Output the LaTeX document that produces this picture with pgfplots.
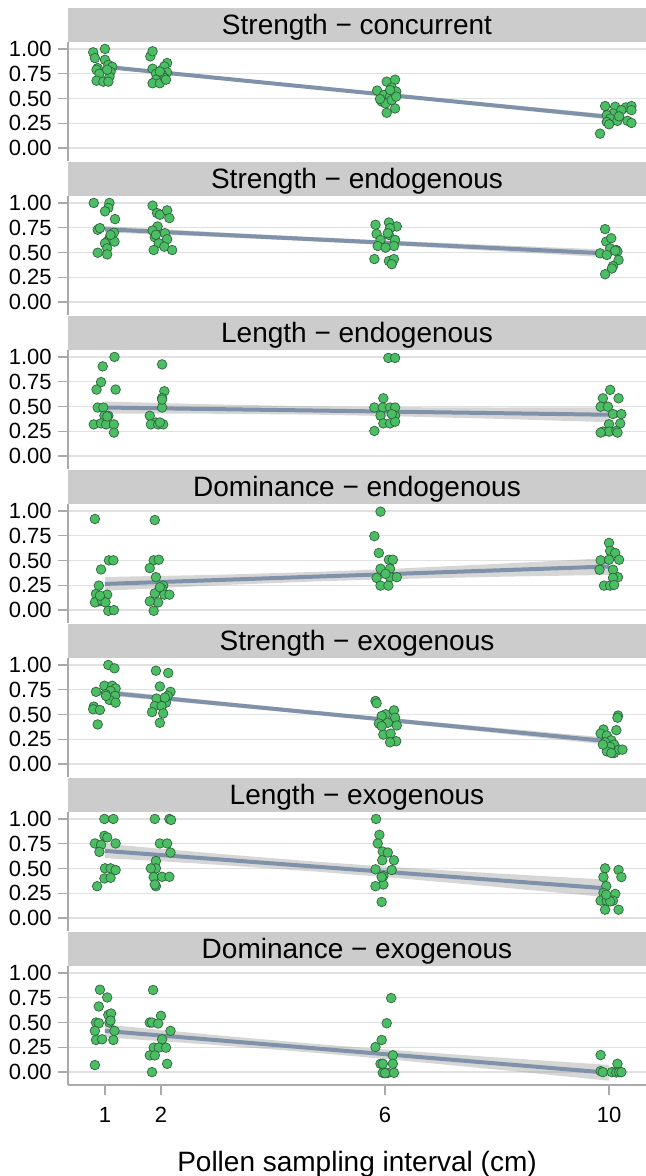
\documentclass[border=0pt]{standalone}
\usepackage{pgfplots}
\pgfplotsset{compat=1.18}
\usepackage{fontspec}
\setmainfont{Liberation Sans}
\definecolor{stripc}{RGB}{204,204,204}
\definecolor{gridc}{RGB}{225,225,225}
\definecolor{axc}{RGB}{170,170,170}
\definecolor{ptfill}{RGB}{75,190,100}
\definecolor{ptdraw}{RGB}{45,100,60}
\definecolor{linec}{RGB}{128,146,170}
\definecolor{bandc}{RGB}{153,153,153}
\pgfplotsset{
  panel/.style={
    scale only axis, width=289pt, height=59.5pt,
    xmin=0.34, xmax=10.66, ymin=-0.13, ymax=1.07,
    anchor=north west,
    axis line style={axc, line width=0.7pt},
    ytick={0,0.25,0.5,0.75,1}, yticklabels={0.00,0.25,0.50,0.75,1.00},
    ymajorgrids, grid style={gridc, line width=0.7pt},
    tick style={axc, line width=0.7pt},
    tick align=outside, major tick length=5pt,
    ticklabel style={font=\fontsize{11}{13}\selectfont},
    yticklabel style={anchor=east, inner sep=0pt, xshift=-3pt},
    axis y line*=left,
    title style={at={(0.5,1)}, anchor=south, fill=stripc, minimum width=289pt,
      minimum height=17pt, inner sep=0pt, text height=10pt, text depth=0pt,
      font=\fontsize{14}{16}\selectfont, yshift=-6pt},
  },
  upper/.style={axis x line=none, xtick=\empty},
  pts/.style={only marks, mark=*, mark size=2.4pt, mark options={fill=ptfill, draw=ptdraw, line width=0.35pt}},
  band/.style={fill=bandc, fill opacity=0.4, draw=none},
  fit/.style={linec, line width=2pt},
}
\begin{document}
\begin{tikzpicture}
\path[use as bounding box] (-34pt,21pt) rectangle (289pt,-567pt);
% Panel 1
\begin{axis}[panel, upper, at={(0pt,0pt)}, title={Strength − concurrent}]
\addplot[pts] coordinates {
(0.79,0.966) (0.82,0.908) (1.00,1.00) (1.00,0.89) (0.87,0.807) (0.85,0.79) (1.06,0.84) (1.13,0.82) (0.90,0.75) (1.10,0.77) (1.08,0.72) (0.85,0.68) (0.97,0.67) (1.06,0.67) (1.04,0.79)
(1.81,0.925) (1.85,0.976) (1.85,0.80) (2.02,0.79) (2.11,0.858) (2.06,0.824) (2.11,0.763) (1.91,0.75) (2.02,0.74) (1.91,0.69) (1.85,0.654) (1.98,0.654) (2.07,0.705) (2.09,0.69) (1.98,0.773)
(5.86,0.58) (6.03,0.67) (6.18,0.69) (6.12,0.61) (5.98,0.535) (6.09,0.52) (6.20,0.57) (5.94,0.47) (6.01,0.45) (6.18,0.40) (6.03,0.356) (5.91,0.495) (6.12,0.485) (6.20,0.52) (6.09,0.586)
(9.84,0.146) (9.93,0.424) (10.11,0.417) (10.30,0.41) (10.40,0.424) (10.40,0.383) (10.22,0.383) (10.07,0.349) (9.96,0.332) (10.02,0.298) (9.96,0.264) (10.15,0.275) (10.33,0.275) (10.40,0.254) (10.00,0.24) (10.18,0.32)
};
\addplot[band] coordinates {(1,0.800) (2,0.746) (3,0.692) (4.75,0.596) (6,0.525) (8,0.408) (10,0.290) (10,0.340) (8,0.446) (6,0.555) (4.75,0.624) (3,0.724) (2,0.782) (1,0.840)} --cycle;
\addplot[fit] coordinates {(1,0.82) (10,0.315)};
\end{axis}
% Panel 2
\begin{axis}[panel, upper, at={(0pt,-77pt)}, title={Strength − endogenous}]
\addplot[pts] coordinates {
(0.80,1.00) (1.08,1.00) (1.06,0.95) (1.00,0.915) (1.18,0.837) (0.87,0.73) (0.91,0.746) (1.16,0.70) (1.08,0.644) (1.04,0.61) (1.17,0.61) (1.00,0.593) (1.04,0.542) (0.87,0.498) (1.04,0.481) (1.10,0.678)
(1.85,0.973) (1.93,0.898) (1.98,0.881) (2.11,0.925) (2.15,0.847) (1.94,0.763) (1.85,0.722) (2.07,0.695) (1.89,0.654) (2.11,0.634) (1.96,0.593) (2.06,0.559) (1.87,0.525) (2.20,0.525) (1.91,0.678)
(5.83,0.78) (6.07,0.803) (6.21,0.763) (6.09,0.746) (5.85,0.688) (6.07,0.678) (5.92,0.627) (6.18,0.627) (5.87,0.566) (6.16,0.566) (6.01,0.549) (5.81,0.434) (6.07,0.414) (6.16,0.434) (6.12,0.383) (6.05,0.695)
(9.93,0.736) (9.95,0.61) (10.04,0.644) (10.02,0.542) (10.13,0.525) (9.84,0.492) (9.96,0.475) (10.15,0.51) (10.17,0.424) (10.07,0.363) (10.05,0.339) (9.93,0.281) (10.11,0.519)
};
\addplot[band] coordinates {(1,0.703) (2,0.680) (3,0.657) (4.75,0.611) (6,0.576) (8,0.514) (10,0.451) (10,0.529) (8,0.574) (6,0.622) (4.75,0.655) (3,0.705) (2,0.736) (1,0.767)} --cycle;
\addplot[fit] coordinates {(1,0.735) (10,0.49)};
\end{axis}
% Panel 3
\begin{axis}[panel, upper, at={(0pt,-154pt)}, title={Length − endogenous}]
\addplot[pts] coordinates {
(1.17,1.00) (0.96,0.905) (0.93,0.746) (0.85,0.671) (1.19,0.671) (0.87,0.49) (0.97,0.49) (1.06,0.407) (0.99,0.407) (0.80,0.32) (0.93,0.33) (1.02,0.32) (1.16,0.32) (1.16,0.237) (1.04,0.40)
(2.02,0.925) (2.06,0.654) (2.02,0.586) (2.02,0.49) (1.80,0.407) (1.91,0.339) (1.82,0.32) (1.95,0.32) (2.04,0.32) (1.98,0.339) (2.02,0.57)
(6.06,0.99) (6.18,0.99) (5.97,0.583) (5.81,0.49) (5.96,0.49) (6.09,0.49) (6.18,0.49) (5.92,0.407) (6.18,0.407) (5.97,0.33) (6.09,0.33) (6.18,0.347) (5.81,0.254) (6.12,0.424)
(10.02,0.668) (10.17,0.583) (9.89,0.583) (9.85,0.498) (9.98,0.498) (10.07,0.424) (10.22,0.424) (10.00,0.322) (10.20,0.329) (9.89,0.247) (10.00,0.247) (10.13,0.254) (10.15,0.237) (9.85,0.237)
};
\addplot[band] coordinates {(1,0.429) (2,0.429) (3,0.427) (4.75,0.418) (6,0.404) (8,0.376) (10,0.342) (10,0.492) (8,0.490) (6,0.494) (4.75,0.502) (3,0.521) (2,0.535) (1,0.551)} --cycle;
\addplot[fit] coordinates {(1,0.49) (10,0.417)};
\end{axis}
% Panel 4
\begin{axis}[panel, upper, at={(0pt,-231pt)}, title={Dominance − endogenous}]
\addplot[pts] coordinates {
(0.82,0.919) (0.93,0.41) (1.07,0.502) (1.15,0.502) (0.89,0.247) (0.84,0.163) (1.04,0.156) (0.89,0.088) (0.82,0.078) (0.95,0.095) (1.01,0.078) (1.06,-0.007) (1.16,0.0) (0.91,0.146)
(1.89,0.908) (1.87,0.502) (1.96,0.508) (1.80,0.424) (1.91,0.332) (2.04,0.247) (2.02,0.214) (1.89,0.169) (2.06,0.156) (2.15,0.156) (1.95,0.078) (1.80,0.088) (1.87,-0.007) (1.98,0.231)
(5.92,0.993) (5.81,0.746) (5.89,0.576) (6.07,0.508) (6.14,0.508) (5.92,0.417) (6.09,0.417) (5.85,0.325) (6.09,0.332) (6.21,0.332) (5.92,0.247) (6.06,0.247) (6.01,0.366)
(10.00,0.678) (10.02,0.597) (10.11,0.576) (9.85,0.502) (10.00,0.508) (10.18,0.508) (9.83,0.407) (10.07,0.407) (10.16,0.332) (10.07,0.325) (9.91,0.247) (10.02,0.247) (10.09,0.254)
};
\addplot[band] coordinates {(1,0.194) (2,0.223) (3,0.250) (4.75,0.289) (6,0.311) (8,0.336) (10,0.355) (10,0.525) (8,0.466) (6,0.413) (4.75,0.385) (3,0.356) (2,0.345) (1,0.334)} --cycle;
\addplot[fit] coordinates {(1,0.264) (10,0.44)};
\end{axis}
% Panel 5
\begin{axis}[panel, upper, at={(0pt,-308pt)}, title={Strength − exogenous}]
\addplot[pts] coordinates {
(1.06,1.00) (1.17,0.966) (0.84,0.729) (0.99,0.79) (1.13,0.79) (1.19,0.763) (1.10,0.739) (1.01,0.705) (1.18,0.688) (1.08,0.647) (1.19,0.62) (0.80,0.58) (0.79,0.553) (0.91,0.546) (0.87,0.40) (1.02,0.688)
(1.91,0.942) (2.13,0.919) (1.98,0.783) (2.17,0.729) (2.12,0.688) (2.06,0.654) (1.92,0.661) (2.09,0.62) (1.89,0.586) (2.01,0.586) (1.84,0.525) (2.04,0.512) (1.98,0.417) (2.07,0.671)
(5.83,0.637) (5.85,0.614) (6.01,0.502) (5.94,0.485) (6.16,0.542) (6.18,0.468) (5.89,0.41) (6.05,0.417) (6.21,0.39) (5.97,0.298) (6.10,0.308) (5.94,0.383) (6.20,0.231) (6.09,0.22)
(10.16,0.49) (10.15,0.468) (10.13,0.342) (9.90,0.349) (9.85,0.308) (9.96,0.288) (10.04,0.24) (9.93,0.22) (10.09,0.197) (10.02,0.173) (9.96,0.129) (10.09,0.112) (10.18,0.146) (10.24,0.146) (9.89,0.197) (10.04,0.112)
};
\addplot[band] coordinates {(1,0.693) (2,0.642) (3,0.591) (4.75,0.497) (6,0.428) (8,0.312) (10,0.194) (10,0.266) (8,0.366) (6,0.470) (4.75,0.537) (3,0.635) (2,0.692) (1,0.751)} --cycle;
\addplot[fit] coordinates {(1,0.722) (10,0.23)};
\end{axis}
% Panel 6
\begin{axis}[panel, upper, at={(0pt,-385pt)}, title={Length − exogenous}]
\addplot[pts] coordinates {
(0.99,1.00) (1.15,1.00) (0.99,0.83) (0.82,0.753) (0.93,0.739) (1.19,0.753) (0.90,0.668) (1.00,0.502) (1.10,0.502) (1.19,0.485) (0.99,0.40) (1.10,0.407) (0.86,0.322) (1.04,0.814)
(1.89,1.00) (2.15,1.00) (2.18,0.99) (1.98,0.753) (2.11,0.753) (2.17,0.661) (1.91,0.576) (1.91,0.502) (1.82,0.502) (1.87,0.414) (2.02,0.417) (2.15,0.417) (1.91,0.322) (1.89,0.339)
(5.84,1.00) (5.90,0.84) (5.87,0.753) (5.96,0.671) (6.05,0.661) (5.95,0.583) (6.16,0.583) (5.83,0.492) (6.12,0.485) (5.97,0.424) (5.97,0.339) (5.83,0.322) (5.94,0.163) (5.94,0.414)
(9.93,0.502) (10.17,0.485) (10.22,0.414) (9.90,0.414) (9.95,0.322) (10.11,0.244) (9.90,0.254) (9.85,0.176) (9.96,0.176) (10.07,0.176) (10.02,0.169) (9.93,0.085) (10.17,0.085) (9.95,0.237)
};
\addplot[band] coordinates {(1,0.605) (2,0.573) (3,0.538) (4.75,0.470) (6,0.414) (8,0.314) (10,0.209) (10,0.387) (8,0.450) (6,0.520) (4.75,0.570) (3,0.650) (2,0.699) (1,0.751)} --cycle;
\addplot[fit] coordinates {(1,0.678) (10,0.298)};
\end{axis}
% Panel 7
\begin{axis}[panel, at={(0pt,-462pt)}, title={Dominance − exogenous},
  axis x line*=bottom, xtick={1,2,6,10}, xticklabels={1,2,6,10},
  xticklabel style={anchor=base, inner sep=0pt, yshift=-13.5pt},
  xlabel={Pollen sampling interval (cm)},
  xlabel style={at={(axis description cs:0.5,0)}, anchor=base, inner sep=0pt, yshift=-43pt, font=\fontsize{14}{16}\selectfont}]
\addplot[pts] coordinates {
(0.91,0.831) (1.04,0.753) (0.89,0.662) (1.06,0.578) (1.11,0.591) (0.84,0.50) (0.89,0.493) (1.08,0.50) (0.82,0.416) (0.84,0.324) (0.95,0.331) (1.17,0.416) (1.15,0.324) (0.82,0.071) (1.10,0.52)
(1.86,0.828) (2.00,0.568) (1.80,0.50) (1.84,0.50) (1.95,0.49) (2.17,0.416) (2.02,0.331) (1.87,0.247) (1.96,0.247) (2.09,0.247) (1.80,0.169) (1.89,0.169) (2.11,0.084) (1.84,0.0)
(6.11,0.747) (6.03,0.493) (5.94,0.324) (5.83,0.253) (6.14,0.169) (5.92,0.084) (5.96,0.084) (6.14,0.084) (5.96,-0.007) (6.05,-0.007) (6.16,-0.007) (6.00,-0.01)
(9.85,0.172) (9.85,0.01) (9.89,0.0) (10.15,0.084) (10.05,0.0) (10.13,-0.003) (10.18,0.0) (10.22,0.0)
};
\addplot[band] coordinates {(1,0.351) (2,0.312) (3,0.272) (4.75,0.195) (6,0.133) (8,0.026) (10,-0.087) (10,0.073) (8,0.148) (6,0.229) (4.75,0.285) (3,0.372) (2,0.426) (1,0.481)} --cycle;
\addplot[fit] coordinates {(1,0.416) (10,-0.007)};
\end{axis}
\end{tikzpicture}
\end{document}
